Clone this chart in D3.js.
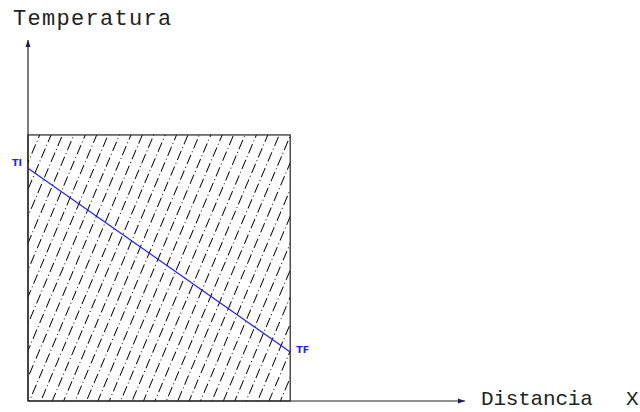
<!DOCTYPE html>
<html>
<head>
<meta charset="utf-8">
<script src="https://cdn.jsdelivr.net/npm/d3@7"></script>
<style>
  body { margin: 0; background: #fff; }
  .lbl { font-family: "Liberation Mono", monospace; fill: #222; }
</style>
</head>
<body>
<script>
var svgWidth = 640;
var svgHeight = 412;

// schematic values (distance / temperature in arbitrary units)
var axisMax = [100, 100];            // x, y axis ends
var slab = [0, 60];                  // slab occupies distance 0..60
var slabTop = 73.7;                  // slab height on temperature axis
var profileX = [0, 60];              // temperature line, distance
var profileT = [64.5, 13.6];         // temperature line, TI -> TF
var endLabels = ["TI", "TF"];
var axisTitles = ["Temperatura", "Distancia", "X"];

var svg = d3.select("body")
  .append("svg")
  .attr("width", svgWidth)
  .attr("height", svgHeight);

var x = d3.scaleLinear().domain([0, axisMax[0]]).range([28, 465]);
var y = d3.scaleLinear().domain([0, axisMax[1]]).range([401, 40]);

// hatch pattern
var defs = svg.append("defs");
var pat = defs.append("pattern")
  .attr("id", "hatch")
  .attr("patternUnits", "userSpaceOnUse")
  .attr("width", 10.5)
  .attr("height", 17)
  .attr("patternTransform", "rotate(23)");
pat.append("line")
  .attr("x1", 5).attr("y1", 0)
  .attr("x2", 5).attr("y2", 17)
  .attr("stroke", "#000")
  .attr("stroke-width", 1)
  .attr("shape-rendering", "crispEdges")
  .attr("stroke-dasharray", "10,3,1.2,2.8");

// slab
svg.append("rect")
  .attr("x", x(slab[0]))
  .attr("y", y(slabTop))
  .attr("width", x(slab[1]) - x(slab[0]))
  .attr("height", y(0) - y(slabTop))
  .attr("fill", "url(#hatch)")
  .attr("stroke", "#222")
  .attr("stroke-width", 1.2);

// axes
var arrow = "#1a1a5a";
svg.append("line")
  .attr("x1", x(0)).attr("y1", y(0))
  .attr("x2", x(0)).attr("y2", y(axisMax[1]))
  .attr("stroke", "#222").attr("stroke-width", 1.2);
svg.append("line")
  .attr("x1", x(0)).attr("y1", y(0))
  .attr("x2", x(axisMax[0])).attr("y2", y(0))
  .attr("stroke", "#222").attr("stroke-width", 1.2);

svg.append("path")
  .attr("d", `M${x(0)},${y(axisMax[1])} l-2.5,7 l5,0 z`)
  .attr("fill", arrow);
svg.append("path")
  .attr("d", `M${x(axisMax[0])},${y(0)} l-7,-2.5 l0,5 z`)
  .attr("fill", arrow);

// temperature profile
var line = d3.line()
  .x(d => x(d[0]))
  .y(d => y(d[1]));
svg.append("path")
  .datum(d3.zip(profileX, profileT))
  .attr("d", line)
  .attr("fill", "none")
  .attr("stroke", "#1f1fff")
  .attr("stroke-width", 1.2);

svg.append("text")
  .attr("x", x(profileX[0]) - 6)
  .attr("y", y(profileT[0]) - 2)
  .attr("text-anchor", "end")
  .style("font-family", "DejaVu Sans")
  .style("font-size", "9.5px")
  .style("font-weight", "bold")
  .attr("fill", "#1f1fff")
  .text(endLabels[0]);

svg.append("text")
  .attr("x", x(profileX[1]) + 6)
  .attr("y", y(profileT[1]) + 1)
  .style("font-family", "DejaVu Sans")
  .style("font-size", "9.5px")
  .style("font-weight", "bold")
  .attr("fill", "#1f1fff")
  .text(endLabels[1]);

// titles
svg.append("text")
  .attr("class", "lbl")
  .attr("x", 13)
  .attr("y", 25)
  .style("font-size", "22px")
  .style("letter-spacing", "1.3px")
  .text(axisTitles[0]);

svg.append("text")
  .attr("class", "lbl")
  .attr("x", 481)
  .attr("y", 405)
  .style("font-size", "21px")
  .style("letter-spacing", "-0.2px")
  .text(axisTitles[1]);

svg.append("text")
  .attr("class", "lbl")
  .attr("x", 626)
  .attr("y", 405)
  .style("font-size", "21px")
  .text(axisTitles[2]);
</script>
</body>
</html>
